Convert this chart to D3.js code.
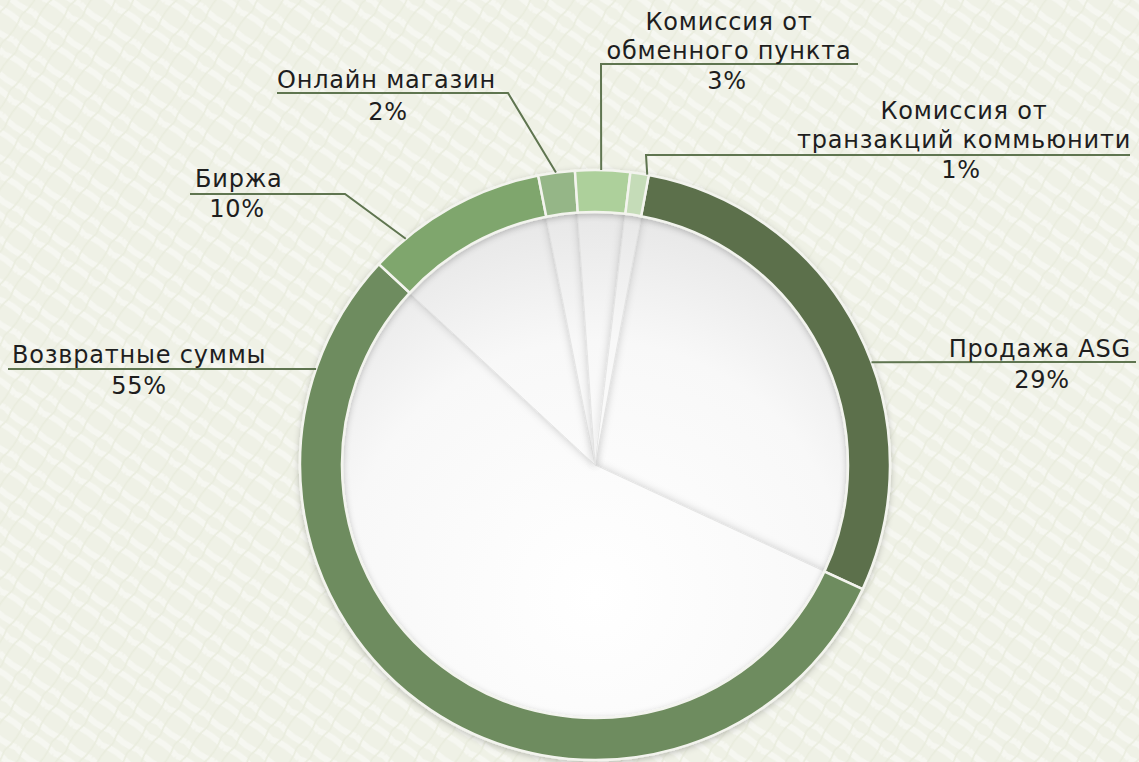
<!DOCTYPE html>
<html>
<head>
<meta charset="utf-8">
<script src="https://cdn.jsdelivr.net/npm/d3@7"></script>
<style>
  html, body { margin: 0; padding: 0; background: #f0f1e7; }
  svg { display: block; }
  text { font-family: "DejaVu Sans", sans-serif; fill: #1e1e1e; font-size: 24px; letter-spacing: 0.8px; }
</style>
</head>
<body>
<div id="chart"></div>
<script>
// chart data
var categories = ["Продажа ASG", "Возвратные суммы", "Биржа", "Онлайн магазин",
                  "Комиссия от обменного пункта", "Комиссия от транзакций коммьюнити"];
var values = [29, 55, 10, 2, 3, 1];
var colors = ["#5b6f4c", "#6e8c5e", "#7fa66d", "#95b687", "#add09b", "#c5dcb8"];

// how each name breaks into rows
var nameLines = [
    ["Продажа ASG"],
    ["Возвратные суммы"],
    ["Биржа"],
    ["Онлайн магазин"],
    ["Комиссия от", "обменного пункта"],
    ["Комиссия от", "транзакций коммьюнити"]
];

var width = 1139, height = 762;
var cx = 595, cy = 465;
var rOuter = 295, rInner = 253;

// label placement: attach angle on the ring (deg), leader points, text anchors
var layout = [
    { angle: 69.6, path: [[1136, 362]], anchor: "end", nameX: 1131, nameY: 357, pctX: 1042, pctY: 388 },
    { angle: -71, path: [[8, 369]], anchor: "start", nameX: 12, nameY: 363, pctX: 139, pctY: 394 },
    { angle: -39.9, path: [[345, 194], [190, 194]], anchor: "start", nameX: 195, nameY: 187, pctX: 237, pctY: 217 },
    { angle: -7.6, path: [[508, 93], [277, 93]], anchor: "start", nameX: 277, nameY: 88, pctX: 388, pctY: 120 },
    { angle: 1.2, path: [[601, 64], [858, 64]], anchor: "middle", nameX: 729, nameY: 30, pctX: 727, pctY: 89 },
    { angle: 10.2, path: [[646, 155], [1130, 155]], anchor: "middle", nameX: 964, nameY: 119, pctX: 961, pctY: 178 }
];

var svg = d3.select("#chart").append("svg")
    .attr("width", width)
    .attr("height", height);

var defs = svg.append("defs");

// textured paper background
var pat = defs.append("pattern")
    .attr("id", "paper")
    .attr("width", 34)
    .attr("height", 34)
    .attr("patternUnits", "userSpaceOnUse")
    .attr("patternTransform", "rotate(35)");
pat.append("rect").attr("width", 34).attr("height", 34).attr("fill", "#eff1e6");
pat.append("path")
    .attr("d", "M0 8 Q17 3 34 8 M0 25 Q17 30 34 25")
    .attr("stroke", "#f6f7f1").attr("stroke-width", 6).attr("fill", "none");
pat.append("path")
    .attr("d", "M9 0 Q4 17 9 34 M26 0 Q31 17 26 34")
    .attr("stroke", "#e9ecdd").attr("stroke-width", 1.5).attr("fill", "none");

// shading of the white slices (local coords of the pie group)
var shade = defs.append("radialGradient")
    .attr("id", "shade")
    .attr("gradientUnits", "userSpaceOnUse")
    .attr("cx", 0).attr("cy", 130).attr("r", rInner + 170);
shade.append("stop").attr("offset", "0%").attr("stop-color", "#ffffff");
shade.append("stop").attr("offset", "60%").attr("stop-color", "#f8f8f8");
shade.append("stop").attr("offset", "100%").attr("stop-color", "#e2e2e2");

var f1 = defs.append("filter").attr("id", "softShadow")
    .attr("x", "-20%").attr("y", "-20%").attr("width", "140%").attr("height", "140%");
f1.append("feDropShadow").attr("dx", 0).attr("dy", 0).attr("stdDeviation", 4)
    .attr("flood-color", "#000").attr("flood-opacity", 0.2);

var f2 = defs.append("filter").attr("id", "ringShadow")
    .attr("x", "-20%").attr("y", "-20%").attr("width", "140%").attr("height", "140%");
f2.append("feDropShadow").attr("dx", 0).attr("dy", 2).attr("stdDeviation", 3)
    .attr("flood-color", "#000").attr("flood-opacity", 0.22);

svg.append("rect")
    .attr("width", width)
    .attr("height", height)
    .attr("fill", "url(#paper)");

var startA = 10.5 * Math.PI / 180;
var pie = d3.pie()
    .sort(null)
    .startAngle(startA)
    .endAngle(startA + 2 * Math.PI)
    .value(function (d) { return d; });

var arcs = pie(values);

var innerArc = d3.arc().innerRadius(0).outerRadius(rInner + 4);
var ringArc = d3.arc().innerRadius(rInner).outerRadius(rOuter);

var g = svg.append("g").attr("transform", "translate(" + cx + "," + cy + ")");

// white inner slices
g.selectAll(".inner")
    .data(arcs)
    .enter()
    .append("path")
    .attr("class", "inner")
    .attr("d", innerArc)
    .attr("fill", "url(#shade)")
    .attr("stroke", "#e4e4e4")
    .attr("stroke-width", 0.6)
    .attr("filter", "url(#softShadow)");

// coloured ring
g.append("g")
    .attr("filter", "url(#ringShadow)")
    .selectAll(".ring")
    .data(arcs)
    .enter()
    .append("path")
    .attr("class", "ring")
    .attr("d", ringArc)
    .attr("fill", function (d, i) { return colors[i]; })
    .attr("stroke", "#f3f4ee")
    .attr("stroke-width", 2.5);

// leader lines and labels
var line = d3.line();
layout.forEach(function (l, i) {
    var a = l.angle * Math.PI / 180;
    var p0 = [cx + rOuter * Math.sin(a), cy - rOuter * Math.cos(a)];
    svg.append("path")
        .attr("d", line([p0].concat(l.path)))
        .attr("fill", "none")
        .attr("stroke", "#5f7550")
        .attr("stroke-width", 2);

    var t = svg.append("text")
        .attr("text-anchor", l.anchor);
    nameLines[i].forEach(function (s, k) {
        t.append("tspan")
            .attr("x", l.nameX)
            .attr("y", l.nameY + k * 29)
            .text(s);
    });

    svg.append("text")
        .attr("x", l.pctX)
        .attr("y", l.pctY)
        .attr("text-anchor", "middle")
        .text(values[i] + "%");
});
</script>
</body>
</html>
